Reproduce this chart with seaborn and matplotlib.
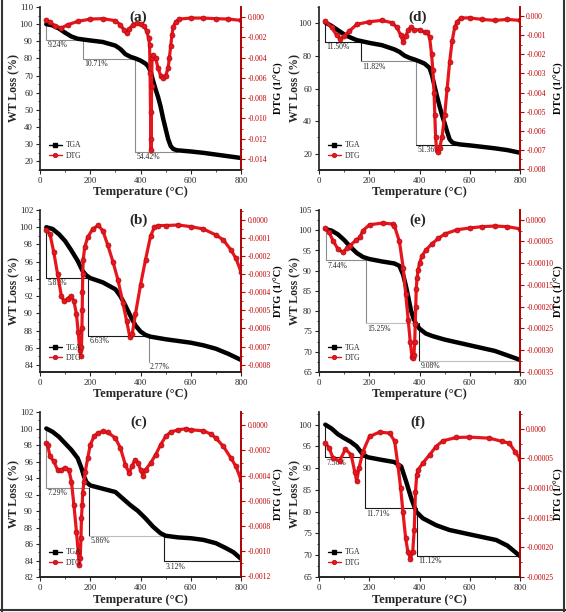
import numpy as np
import matplotlib
matplotlib.use("Agg")
import matplotlib.pyplot as plt
import seaborn as sns
from matplotlib.lines import Line2D
from matplotlib.ticker import MultipleLocator, AutoMinorLocator, FuncFormatter

sns.set_theme(style="ticks")
plt.rcParams['font.family'] = ['Liberation Serif', 'DejaVu Serif']
plt.rcParams['axes.unicode_minus'] = False

RED = '#e8161c'
DRED = '#b00d15'
AXRED = '#c00000'

# ---- (a) ----
t_tga_a = [25, 50, 75, 100, 125, 150, 175, 200, 250, 300, 320, 340, 360, 380, 400, 420, 430, 440, 450, 460,
           470, 480, 490, 500, 510, 520, 530, 545, 600, 650, 700, 750, 800]
tga_a = [100, 99.3, 97.5, 95, 92.8, 91.5, 91, 90.5, 89.6, 87.5, 85.5, 82.5, 81, 80, 78.8, 77, 75.5, 72.5, 67, 62,
         57.5, 52, 45, 39, 33, 29, 27.3, 26.5, 25.8, 25, 24, 23, 22]
t_dtg_a = [25, 40, 60, 85, 110, 150, 200, 250, 300, 320, 335, 345, 355, 370, 385, 400, 415, 425, 432, 436, 438,
           440, 441, 442, 444, 446, 450, 460, 470, 480, 490, 500, 510, 515, 520, 525, 530, 540, 555, 600, 650,
           700, 750, 800]
dtg_a = [-0.26, -0.53, -0.86, -1.09, -0.76, -0.43, -0.2, -0.16, -0.36, -0.76, -1.32, -1.58, -1.18, -0.76, -0.59,
         -0.66, -0.92, -1.41, -2.07, -2.73, -5.5, -9.4, -12.0, -13.1, -6.8, -4.0, -3.72, -4.05, -5.03, -5.79,
         -6.05, -5.8, -5.0, -4.0, -2.9, -1.8, -1.0, -0.45, -0.2, -0.1, -0.1, -0.16, -0.2, -0.33]  # x1e-3

# ---- (b) ----
t_tga_b = [25, 50, 75, 100, 125, 150, 170, 185, 200, 250, 300, 320, 340, 360, 380, 400, 420, 440, 500, 600,
           650, 700, 750, 800]
tga_b = [100, 99.8, 99.2, 98.4, 97.3, 96.1, 94.9, 94.4, 94.1, 93.6, 92.8, 92.0, 90.9, 89.7, 88.6, 87.9, 87.5,
         87.3, 87.0, 86.6, 86.3, 85.9, 85.3, 84.6]
t_dtg_b = [25, 40, 55, 70, 85, 95, 110, 122, 135, 145, 152, 158, 162, 165, 167, 168, 169, 170, 172, 178, 190,
           210, 232, 250, 270, 290, 310, 330, 345, 358, 367, 380, 400, 420, 440, 455, 470, 500, 550, 600, 650,
           700, 730, 760, 780, 800]
dtg_b = [-0.55, -0.8, -1.8, -3.0, -4.2, -4.5, -4.35, -4.2, -4.5, -5.2, -6.2, -7.2, -7.5, -7.0, -6.0, -5.0, -4.0,
         -3.0, -2.2, -1.5, -0.95, -0.5, -0.3, -0.6, -1.4, -2.3, -3.3, -4.6, -5.6, -6.5, -6.3, -5.2, -3.6, -2.2,
         -0.9, -0.4, -0.31, -0.31, -0.28, -0.37, -0.5, -0.83, -1.11, -1.66, -2.13, -2.87]  # x1e-4

# ---- (c) ----
t_tga_c = [25, 50, 75, 100, 125, 150, 165, 175, 185, 200, 250, 300, 330, 360, 390, 420, 450, 480, 500, 550,
           600, 650, 700, 740, 770, 800]
tga_c = [100, 99.6, 99.0, 98.2, 97.4, 96.4, 95.2, 94.2, 93.5, 93.1, 92.7, 92.3, 91.5, 90.7, 90.0, 89.1, 88.1,
         87.3, 87.0, 86.8, 86.7, 86.5, 86.1, 85.5, 85.0, 84.2]
t_dtg_c = [25, 30, 40, 55, 70, 85, 100, 115, 125, 135, 145, 152, 156, 160, 163, 165, 168, 170, 175, 180, 190,
           200, 215, 230, 250, 270, 300, 320, 340, 355, 365, 378, 390, 400, 410, 420, 440, 460, 480, 500, 520,
           550, 580, 600, 650, 680, 700, 730, 760, 780, 800]
dtg_c = [-1.41, -1.55, -2.48, -2.88, -3.55, -3.55, -3.36, -3.55, -4.48, -6.35, -8.48, -10.08, -11.15, -10.61,
         -9.0, -7.41, -6.35, -5.41, -4.48, -3.68, -2.61, -1.55, -0.88, -0.61, -0.48, -0.56, -1.01, -1.81, -3.15,
         -3.81, -3.28, -2.75, -3.01, -3.55, -4.0, -3.55, -3.01, -2.35, -1.55, -0.88, -0.53, -0.35, -0.27, -0.35,
         -0.43, -0.69, -1.01, -1.68, -2.61, -3.28, -4.35]  # x1e-4

# ---- (d) ----
t_tga_d = [25, 50, 75, 100, 125, 150, 200, 250, 300, 320, 340, 360, 380, 400, 420, 440, 450, 460, 470, 480,
           490, 500, 510, 520, 530, 540, 560, 600, 650, 700, 750, 800]
tga_d = [100.5, 98.4, 95.8, 93.2, 91.3, 89.7, 88, 86.6, 84, 82.5, 80.2, 78.8, 77.8, 76.6, 75.3, 72.6, 68, 61.3,
         55, 49, 43.5, 38.7, 33.5, 28.8, 27, 26.3, 25.7, 25.1, 24.2, 23.3, 22.2, 20.6]
t_dtg_d = [25, 50, 70, 85, 100, 120, 150, 200, 250, 290, 310, 325, 335, 345, 355, 365, 380, 400, 420, 430, 440,
           448, 453, 458, 461, 464, 468, 472, 480, 490, 500, 510, 520, 530, 540, 550, 565, 600, 650, 700, 750, 800]
dtg_d = [-0.26, -0.6, -1.0, -1.2, -1.05, -0.8, -0.44, -0.3, -0.23, -0.35, -0.6, -1.0, -1.36, -1.05, -0.75, -0.6,
         -0.73, -0.72, -0.84, -0.85, -1.1, -2.0, -2.8, -4.0, -5.2, -6.3, -7.0, -7.1, -6.9, -6.3, -5.2, -3.8, -2.4,
         -1.3, -0.6, -0.3, -0.1, -0.1, -0.18, -0.23, -0.18, -0.23]  # x1e-3

# ---- (e) ----
t_tga_e = [25, 50, 75, 100, 125, 150, 175, 200, 250, 300, 320, 335, 345, 355, 365, 375, 385, 400, 425, 450,
           500, 600, 700, 800]
tga_e = [100.3, 99.9, 99, 97.6, 95.9, 94.4, 93.4, 92.9, 92.3, 91.8, 91.2, 89.0, 86.5, 83.6, 80.5, 78.4, 77,
         75.7, 74.5, 73.9, 73.0, 71.6, 70.2, 68]
t_dtg_e = [25, 40, 56, 75, 95, 110, 122, 148, 162, 175, 201, 254, 294, 300, 320, 335, 345, 355, 363, 370, 375,
           378, 381, 383, 385, 387, 390, 395, 400, 410, 425, 450, 475, 500, 550, 600, 650, 700, 750, 800]
dtg_e = [-1.92, -2.9, -4.84, -6.7, -7.52, -6.6, -6.0, -4.7, -4.07, -2.5, -1.15, -0.77, -1.0, -1.4, -5.0, -11.0,
         -17.0, -23.0, -28.0, -31.5, -31.7, -31.0, -28.0, -24.0, -20.0, -16.0, -13.5, -11.5, -10.0, -8.3, -7.0,
         -5.5, -4.3, -3.3, -2.3, -1.9, -1.6, -1.45, -1.6, -2.1]  # x1e-5

# ---- (f) ----
t_tga_f = [25, 50, 75, 100, 125, 150, 175, 195, 250, 300, 327, 347, 367, 387, 413, 466, 519, 599, 705, 750, 800]
tga_f = [100, 99.1, 97.8, 96.9, 96.1, 95, 93.1, 92.5, 91.9, 91.4, 90.4, 86.9, 83.1, 80, 78.5, 76.9, 75.8, 74.8,
         73.5, 72.2, 69.8]
t_dtg_f = [25, 40, 56, 82, 105, 128, 142, 150, 159, 175, 201, 241, 281, 301, 314, 325, 334, 345, 354, 364, 373,
           379, 384, 389, 395, 413, 440, 466, 493, 546, 599, 678, 730, 758, 780, 800]
dtg_f = [-2.43, -3.2, -4.97, -5.42, -3.44, -4.40, -7.22, -8.80, -6.66, -3.84, -1.30, -0.56, -0.73, -2.1, -6.1,
         -10.0, -14.0, -18.5, -20.8, -21.9, -20.8, -17.0, -10.6, -7.8, -6.9, -5.8, -4.4, -2.99, -2.03, -1.47,
         -1.41, -1.58, -2.14, -2.43, -3.84, -5.08]  # x1e-5

# step annotations: temperatures, mass levels, labels
step_t = {'a': [24, 171, 378, 545], 'b': [25, 190, 432, 432], 'c': [24, 194, 495, 800],
          'd': [25, 167, 385, 547], 'e': [28, 186, 398, 800], 'f': [25, 184, 390, 800]}
step_w = {'a': [100, 90.8, 79.8, 25.5], 'b': [100, 94.1, 87.4, 84.4], 'c': [100, 92.8, 87.0, 83.9],
          'd': [100.5, 88.5, 76.7, 25.3], 'e': [100, 92.6, 77.0, 67.8], 'f': [100, 92.5, 80.8, 69.9]}
step_lbl = {'a': ['9.24%', '10.71%', '54.42%'], 'b': ['5.87%', '6.63%', '2.77%'],
            'c': ['7.29%', '5.86%', '3.12%'], 'd': ['11.50%', '11.82%', '51.36%'],
            'e': ['7.44%', '15.25%', '9.08%'], 'f': ['7.56%', '11.71%', '11.12%']}
G, LG = '#8c8c8c', '#bdbdbd'
step_col = {'a': [G] * 6, 'b': ['k', 'k', 'k', 'k', G, None], 'c': [G, G, 'k', LG, 'k', 'k'],
            'd': ['k', 'k', 'k', G, G, 'k'], 'e': [G, G, G, LG, 'k', LG], 'f': ['k'] * 6}


def fmt(dec):
    def f(v, pos):
        if abs(v) < 1e-12:
            return '0.' + '0' * min(dec, 4)
        return ('%.' + str(dec) + 'f') % v
    return FuncFormatter(f)


panels = {
    'a': dict(tga=(t_tga_a, tga_a), dtg=(t_dtg_a, np.array(dtg_a) * 1e-3), yl=(15, 110), ystep=10,
              yr=(-0.01508, 0.00099), rstep=0.002, dec=3),
    'b': dict(tga=(t_tga_b, tga_b), dtg=(t_dtg_b, np.array(dtg_b) * 1e-4), yl=(83.2, 102), ystep=2,
              yr=(-0.000841, 0.000055), rstep=0.0001, dec=4),
    'c': dict(tga=(t_tga_c, tga_c), dtg=(t_dtg_c, np.array(dtg_c) * 1e-4), yl=(82, 102), ystep=2,
              yr=(-0.00121, 0.000107), rstep=0.0002, dec=4),
    'd': dict(tga=(t_tga_d, tga_d), dtg=(t_dtg_d, np.array(dtg_d) * 1e-3), yl=(10, 110), ystep=20,
              yr=(-0.00805, 0.00047), rstep=0.001, dec=3),
    'e': dict(tga=(t_tga_e, tga_e), dtg=(t_dtg_e, np.array(dtg_e) * 1e-5), yl=(65, 105), ystep=5,
              yr=(-0.00035, 0.0000223), rstep=0.00005, dec=5),
    'f': dict(tga=(t_tga_f, tga_f), dtg=(t_dtg_f, np.array(dtg_f) * 1e-5), yl=(65, 102.9), ystep=5,
              yr=(-0.00025, 0.0000283), rstep=0.00005, dec=5),
}

W, H = 566, 612
fig = plt.figure(figsize=(W / 100, H / 100), dpi=100)
lefts = [40, 319]
rows = [(7, 170), (210, 372), (412, 577)]
order = [['a', 'd'], ['b', 'e'], ['c', 'f']]

for r, (top, bot) in enumerate(rows):
    for c, key in enumerate(order[r]):
        p = panels[key]
        ax = fig.add_axes([lefts[c] / W, 1 - bot / H, 201 / W, (bot - top) / H])
        ax2 = ax.twinx()

        sns.lineplot(x=p['tga'][0], y=p['tga'][1], ax=ax, color='black', linewidth=3.2,
                     estimator=None, sort=False)
        sns.lineplot(x=p['dtg'][0], y=p['dtg'][1], ax=ax2, color=RED, linewidth=2.3, marker='o',
                     markersize=3.6, markerfacecolor=RED, markeredgecolor=DRED, markeredgewidth=0.5,
                     estimator=None, sort=False)

        # step annotations
        ts, ws, cols = step_t[key], step_w[key], step_col[key]
        for i in range(3):
            if cols[2 * i]:
                ax.plot([ts[i], ts[i]], [ws[i], ws[i + 1]], color=cols[2 * i], lw=0.8, zorder=1)
            if cols[2 * i + 1]:
                ax.plot([ts[i], ts[i + 1]], [ws[i + 1], ws[i + 1]], color=cols[2 * i + 1], lw=0.8, zorder=1)
            ax.annotate(step_lbl[key][i], (ts[i], ws[i + 1]), xytext=(1, -1), textcoords='offset points',
                        fontsize=5.5, ha='left', va='top')

        ax.set_xlim(0, 800)
        ax.set_ylim(*p['yl'])
        ax2.set_ylim(*p['yr'])
        ax.xaxis.set_major_locator(MultipleLocator(200))
        ax.xaxis.set_minor_locator(AutoMinorLocator(2))
        ax.yaxis.set_major_locator(MultipleLocator(p['ystep']))
        ax.yaxis.set_minor_locator(AutoMinorLocator(2))
        ax2.yaxis.set_major_locator(MultipleLocator(p['rstep']))
        ax2.yaxis.set_minor_locator(AutoMinorLocator(2))
        ax2.yaxis.set_major_formatter(fmt(p['dec']))

        for a in (ax, ax2):
            a.spines['top'].set_visible(False)
            a.tick_params(which='major', length=3, width=0.8, labelsize=6.3, pad=2)
            a.tick_params(which='minor', length=1.6, width=0.6)
        ax2.spines['right'].set_color(AXRED)
        ax2.spines['left'].set_visible(False)
        ax2.tick_params(axis='y', which='both', colors=AXRED, labelcolor=AXRED, labelsize=5.5, pad=1.5)

        ax.set_xlabel('Temperature (°C)', fontsize=9, fontweight='bold')
        ax.set_ylabel('WT Loss (%)', fontsize=8.5, fontweight='bold')
        ax2.set_ylabel('DTG (1/°C)', fontsize=7.5, fontweight='bold', color='black')
        ax.xaxis.set_label_coords(0.5, -0.10)
        ax.yaxis.set_label_coords(-0.10 if c == 0 else -0.09, 0.5)
        ax2.yaxis.set_label_coords(1.165 if c == 0 else 1.17, 0.5)

        ax.text(0.49, 0.935, '(%s)' % key, transform=ax.transAxes, ha='center', va='center',
                fontsize=11, fontweight='bold')

        handles = [Line2D([], [], color='black', lw=1.0, marker='s', markersize=2.8),
                   Line2D([], [], color=RED, lw=1.0, marker='o', markersize=3.2, markeredgecolor=DRED,
                          markeredgewidth=0.5)]
        ax2.legend(handles, ['TGA', 'DTG'], loc='lower left', bbox_to_anchor=(0.02, 0.03), frameon=False,
                   fontsize=5.5, handlelength=1.6, handletextpad=0.5, labelspacing=0.3, borderpad=0.2)

# frame of the scanned figure
for seg in [([1.5, 1.5], [0, H]), ([0, W], [2, 2]), ([564, 564], [0, H])]:
    fig.add_artist(Line2D(np.array(seg[0]) / W, np.array(seg[1]) / H, transform=fig.transFigure,
                          color='#333333', lw=1.5))

fig.savefig('out.png', dpi=100)
